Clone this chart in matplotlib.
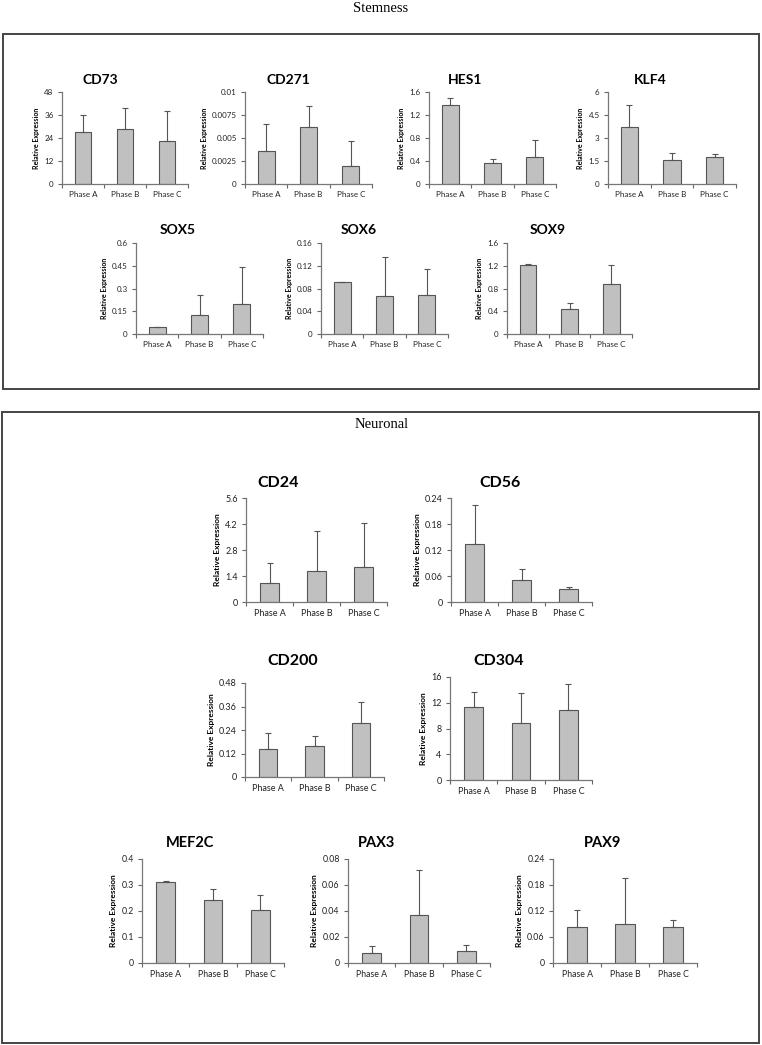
import numpy as np
import matplotlib
matplotlib.use("Agg")
import matplotlib.pyplot as plt
from matplotlib.patches import Rectangle

W, H = 762, 1045
phases = ["Phase A", "Phase B", "Phase C"]

# bar heights and tops of the (upper) error bars
cd73 = [27.0, 28.8, 22.2];          cd73_top = [36.1, 39.6, 38.2]
cd271 = [0.0036, 0.0062, 0.0020];   cd271_top = [0.0065, 0.0085, 0.0047]
hes1 = [1.37, 0.37, 0.47];          hes1_top = [1.50, 0.43, 0.76]
klf4 = [3.69, 1.55, 1.79];          klf4_top = [5.17, 2.05, 1.96]
sox5 = [0.046, 0.124, 0.20];        sox5_top = [0.046, 0.258, 0.439]
sox6 = [0.091, 0.0665, 0.0688];     sox6_top = [0.092, 0.136, 0.114]
sox9 = [1.22, 0.44, 0.876];         sox9_top = [1.225, 0.54, 1.206]
cd24 = [1.02, 1.68, 1.89];          cd24_top = [2.09, 3.82, 4.23]
cd56 = [0.135, 0.051, 0.031];       cd56_top = [0.225, 0.076, 0.034]
cd200 = [0.142, 0.156, 0.276];      cd200_top = [0.223, 0.209, 0.384]
cd304 = [11.4, 8.93, 10.94];        cd304_top = [13.6, 13.57, 14.86]
mef2c = [0.3105, 0.2415, 0.2045];   mef2c_top = [0.3156, 0.285, 0.2607]
pax3 = [0.0077, 0.0371, 0.0092];    pax3_top = [0.0128, 0.0713, 0.0138]
pax9 = [0.082, 0.0897, 0.0828];     pax9_top = [0.1227, 0.1955, 0.099]

# y tick values / labels
t_cd73 = [0, 12, 24, 36, 48];                 l_cd73 = ["0", "12", "24", "36", "48"]
t_cd271 = [0, 0.0025, 0.005, 0.0075, 0.01];   l_cd271 = ["0", "0.0025", "0.005", "0.0075", "0.01"]
t_hes1 = [0, 0.4, 0.8, 1.2, 1.6];             l_hes1 = ["0", "0.4", "0.8", "1.2", "1.6"]
t_klf4 = [0, 1.5, 3, 4.5, 6];                 l_klf4 = ["0", "1.5", "3", "4.5", "6"]
t_sox5 = [0, 0.15, 0.3, 0.45, 0.6];           l_sox5 = ["0", "0.15", "0.3", "0.45", "0.6"]
t_sox6 = [0, 0.04, 0.08, 0.12, 0.16];         l_sox6 = ["0", "0.04", "0.08", "0.12", "0.16"]
t_sox9 = [0, 0.4, 0.8, 1.2, 1.6];             l_sox9 = ["0", "0.4", "0.8", "1.2", "1.6"]
t_cd24 = [0, 1.4, 2.8, 4.2, 5.6];             l_cd24 = ["0", "1.4", "2.8", "4.2", "5.6"]
t_cd56 = [0, 0.06, 0.12, 0.18, 0.24];         l_cd56 = ["0", "0.06", "0.12", "0.18", "0.24"]
t_cd200 = [0, 0.12, 0.24, 0.36, 0.48];        l_cd200 = ["0", "0.12", "0.24", "0.36", "0.48"]
t_cd304 = [0, 4, 8, 12, 16];                  l_cd304 = ["0", "4", "8", "12", "16"]
t_mef2c = [0, 0.1, 0.2, 0.3, 0.4];            l_mef2c = ["0", "0.1", "0.2", "0.3", "0.4"]
t_pax3 = [0, 0.02, 0.04, 0.06, 0.08];         l_pax3 = ["0", "0.02", "0.04", "0.06", "0.08"]
t_pax9 = [0, 0.06, 0.12, 0.18, 0.24];         l_pax9 = ["0", "0.06", "0.12", "0.18", "0.24"]

fam = ["Lato", "DejaVu Sans"]
# tick size, ylabel size, title size
sizes = {"small": (5.8, 5.0, 10), "low": (6.3, 6.0, 10.5), "big": (6.5, 6.0, 11.5)}

fig = plt.figure(figsize=(W / 100, H / 100), dpi=100)


def px_rect(x0, y0, x1, y1):
    return [x0 / W, 1 - y1 / H, (x1 - x0) / W, (y1 - y0) / H]


def panel(rect, title_xy, name, vals, tops, ticks, labels, style="small"):
    fs, lfs, tfs = sizes[style]
    ax = fig.add_axes(px_rect(*rect))
    x = np.arange(len(phases))
    up = np.array(tops) - np.array(vals)
    ax.bar(x, vals, width=0.4, color="#c0c0c0", edgecolor="#555555", linewidth=0.8, zorder=2)
    ax.errorbar(x, vals, yerr=[np.zeros(3), up], fmt="none", ecolor="#555555",
                elinewidth=0.8, capsize=2.2, capthick=0.8, zorder=3)
    ax.set_xlim(-0.5, 2.5)
    ax.set_ylim(ticks[0], ticks[-1])
    ax.set_yticks(ticks)
    ax.set_yticklabels(labels, fontsize=fs, family=fam, color="#222222")
    ax.set_xticks(x)
    ax.set_xticklabels(phases, fontsize=fs, family=fam, color="#222222")
    ax.set_xticks([-0.5, 0.5, 1.5, 2.5], minor=True)
    ax.tick_params(axis="x", which="major", length=0, pad=5)
    ax.tick_params(axis="x", which="minor", length=3, width=0.8, color="#666666", direction="out")
    ax.tick_params(axis="y", length=3, width=0.8, color="#666666", direction="out", pad=3)
    for s in ["top", "right"]:
        ax.spines[s].set_visible(False)
    for s in ["left", "bottom"]:
        ax.spines[s].set_color("#777777")
        ax.spines[s].set_linewidth(0.9)
    ax.patch.set_alpha(0)
    ax.set_ylabel("Relative Expression", fontsize=lfs, fontweight="bold", family=fam, labelpad=3)
    fig.text(title_xy[0] / W, 1 - title_xy[1] / H, name, ha="center", va="center",
             fontsize=tfs, fontweight="bold", family=fam)
    return ax


# frames and section titles
fig.patches.append(Rectangle((3 / W, 1 - 389 / H), 756 / W, 355 / H, transform=fig.transFigure,
                             fill=False, edgecolor="#444444", linewidth=1.4))
fig.patches.append(Rectangle((2 / W, 1 - 1043 / H), 757 / W, 631 / H, transform=fig.transFigure,
                             fill=False, edgecolor="#444444", linewidth=1.4))
fig.text(381 / W, 1 - 8 / H, "Stemness", ha="center", va="center", fontsize=10.5,
         family="Liberation Serif")
fig.text(382 / W, 1 - 425 / H, "Neuronal", ha="center", va="center", fontsize=10.5,
         family="Liberation Serif")

# stemness
panel((62, 92, 188, 184), (100, 80), "CD73", cd73, cd73_top, t_cd73, l_cd73)
panel((245, 92, 372, 184), (288, 80), "CD271", cd271, cd271_top, t_cd271, l_cd271)
panel((429, 92, 556, 184), (465, 80), "HES1", hes1, hes1_top, t_hes1, l_hes1)
panel((608, 92, 736, 184), (650, 80), "KLF4", klf4, klf4_top, t_klf4, l_klf4)
panel((136, 243, 263, 334), (178, 230), "SOX5", sox5, sox5_top, t_sox5, l_sox5)
panel((321, 243, 448, 334), (359, 230), "SOX6", sox6, sox6_top, t_sox6, l_sox6)
panel((507, 243, 632, 334), (548, 230), "SOX9", sox9, sox9_top, t_sox9, l_sox9)

# neuronal
panel((246, 498, 387, 602), (278, 483), "CD24", cd24, cd24_top, t_cd24, l_cd24, "big")
panel((451, 498, 592, 602), (500, 483), "CD56", cd56, cd56_top, t_cd56, l_cd56, "big")
panel((245, 683, 384, 777), (293, 661), "CD200", cd200, cd200_top, t_cd200, l_cd200, "big")
panel((450, 677, 592, 780), (499, 661), "CD304", cd304, cd304_top, t_cd304, l_cd304, "big")
panel((142, 859, 284, 963), (190, 843), "MEF2C", mef2c, mef2c_top, t_mef2c, l_mef2c, "low")
panel((348, 859, 490, 963), (377, 843), "PAX3", pax3, pax3_top, t_pax3, l_pax3, "low")
panel((553, 859, 697, 963), (603, 843), "PAX9", pax9, pax9_top, t_pax9, l_pax9, "low")

fig.savefig("out.png", dpi=100, facecolor="white")
